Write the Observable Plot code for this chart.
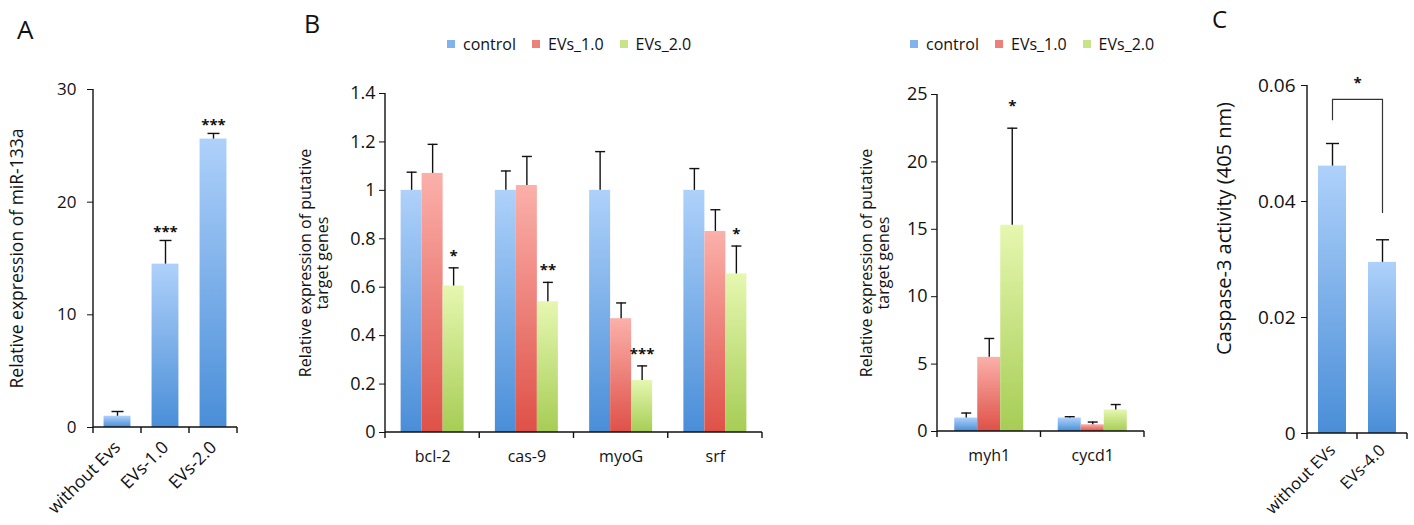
<!DOCTYPE html>
<html><head><meta charset="utf-8">
<script src="https://cdn.jsdelivr.net/npm/d3@7"></script>
<script src="https://cdn.jsdelivr.net/npm/@observablehq/plot@0.6"></script>
<style>
body{margin:0;background:#fff;font-family:"Open Sans",sans-serif;color:#111;}
#root{position:relative;width:1414px;height:525px;overflow:hidden;background:#fff;}
.panel{position:absolute;top:0;}
.tag{position:absolute;line-height:1;color:#111;}
.leg{position:absolute;}
</style></head><body><div id="root"></div>
<script>
// ---------- Panel A ----------
const aCategories = ["without Evs", "EVs-1.0", "EVs-2.0"];
const aValues = [1.0, 14.5, 25.6];
const aErrTop = [1.42, 16.6, 26.1];
const aStars = ["", "***", "***"];
const aTicks = [0, 10, 20, 30];
const aYLabel = "Relative expression of miR-133a";

// ---------- Panel B ----------
const bSeries = ["control", "EVs_1.0", "EVs_2.0"];
const bGenesLeft = ["bcl-2", "cas-9", "myoG", "srf"];
const bControlLeft = [1.0, 1.0, 1.0, 1.0];
const bControlLeftErr = [1.075, 1.08, 1.16, 1.09];
const bEv1Left = [1.07, 1.02, 0.47, 0.83];
const bEv1LeftErr = [1.19, 1.14, 0.535, 0.92];
const bEv2Left = [0.605, 0.54, 0.215, 0.655];
const bEv2LeftErr = [0.68, 0.62, 0.275, 0.77];
const bStarsLeft = ["*", "**", "***", "*"];
const bTicksLeft = [0, 0.2, 0.4, 0.6, 0.8, 1.0, 1.2, 1.4];

const bGenesRight = ["myh1", "cycd1"];
const bControlRight = [1.0, 1.0];
const bControlRightErr = [1.37, 1.1];
const bEv1Right = [5.5, 0.5];
const bEv1RightErr = [6.9, 0.7];
const bEv2Right = [15.3, 1.6];
const bEv2RightErr = [22.5, 2.0];
const bStarsRight = ["*", ""];
const bTicksRight = [0, 5, 10, 15, 20, 25];
const bYLabel = "Relative expression of putative\ntarget genes";

// ---------- Panel C ----------
const cCategories = ["without EVs", "EVs-4.0"];
const cValues = [0.0461, 0.0295];
const cErrTop = [0.0500, 0.0334];
const cBracketX = ["without EVs", "without EVs", "EVs-4.0", "EVs-4.0"];
const cBracketY = [0.0541, 0.0576, 0.0576, 0.0381];
const cStar = "*";
const cTicks = [0, 0.02, 0.04, 0.06];
const cYLabel = "Caspase-3 activity (405 nm)";

// ---------- styles ----------
const INK = "#111";
const BLUE = ["#aed1fa", "#4a8ed8"];
const RED = ["#fbb0aa", "#de5148"];
const GREEN = ["#e6f7b0", "#a6cd55"];
const LEGEND_COLORS = ["#80b3ee", "#ef8078", "#c8e487"];
const FONT = "Open Sans";
const baseStyle = {background: "none", overflow: "visible", fontFamily: FONT, fontSize: "17px", color: INK};

const cap = {draw(ctx, size) { const h = Math.sqrt(size / Math.PI); ctx.moveTo(-h, 0); ctx.lineTo(h, 0); }};

function gradDefs(prefix, pairs) {
  return () => {
    const defs = d3.create("svg:defs");
    pairs.forEach(([top, bottom], k) => {
      const lg = defs.append("linearGradient").attr("id", prefix + k)
        .attr("x1", 0).attr("y1", 0).attr("x2", 0).attr("y2", 1);
      lg.append("stop").attr("offset", "0%").attr("stop-color", top);
      lg.append("stop").attr("offset", "100%").attr("stop-color", bottom);
    });
    return defs.node();
  };
}

// axis lines + category boundary ticks drawn from the plot's own scales
function axisFrame() {
  return (index, scales, values, dims) => {
    const x = scales.x, y = scales.y;
    const [lo, hi] = y.domain();
    const g = d3.create("svg:g").attr("stroke", INK).attr("stroke-width", 1.4).attr("fill", "none");
    const left = dims.marginLeft, right = dims.width - dims.marginRight;
    g.append("line").attr("x1", left).attr("x2", left).attr("y1", y(hi)).attr("y2", y(lo));
    g.append("line").attr("x1", left).attr("x2", right).attr("y1", y(lo)).attr("y2", y(lo));
    const dom = x.domain(), half = x.step() / 2, bw = x.bandwidth() / 2;
    const bounds = dom.map(d => x(d) + bw - half);
    bounds.push(x(dom[dom.length - 1]) + bw + half);
    for (const b of bounds) g.append("line").attr("x1", b).attr("x2", b).attr("y1", y(lo)).attr("y2", y(lo) + 6);
    return g.node();
  };
}

function place(node, left, width) {
  const div = document.createElement("div");
  div.className = "panel";
  div.style.left = left + "px";
  div.style.width = width + "px";
  div.appendChild(node);
  document.getElementById("root").appendChild(div);
}
function tag(text, left, top, size) {
  const d = document.createElement("div");
  d.className = "tag"; d.textContent = text;
  d.style.left = left + "px"; d.style.top = top + "px"; d.style.fontSize = size + "px";
  document.getElementById("root").appendChild(d);
}
function legend(left, top) {
  const l = Plot.legend({
    color: {type: "categorical", domain: bSeries, range: LEGEND_COLORS},
    legend: "swatches", swatchSize: 8,
    style: {fontFamily: FONT, fontSize: "16px", color: INK, background: "none"}
  });
  const d = document.createElement("div");
  d.className = "leg"; d.style.left = left + "px"; d.style.top = top + "px";
  d.appendChild(l);
  document.getElementById("root").appendChild(d);
}

// ---------- Panel A ----------
const rowsA = aCategories.map((c, i) => ({cat: c, value: aValues[i], err: aErrTop[i], star: aStars[i]}));
place(Plot.plot({
  width: 250, height: 525, marginLeft: 93, marginRight: 13, marginTop: 89, marginBottom: 98,
  style: baseStyle,
  x: {type: "band", domain: aCategories, paddingInner: 0.44, paddingOuter: 0.22, round: false},
  y: {domain: [0, 30]},
  marks: [
    gradDefs("gA", [BLUE]),
    Plot.barY(rowsA, {x: "cat", y: "value", fill: "url(#gA0)"}),
    Plot.ruleX(rowsA, {x: "cat", y1: "value", y2: "err", stroke: INK, strokeWidth: 1.4}),
    Plot.dot(rowsA, {x: "cat", y: "err", symbol: cap, r: 6, stroke: INK, fill: "none", strokeWidth: 1.4}),
    Plot.text(rowsA.filter(d => d.star), {x: "cat", y: "err", text: "star", dy: -8, fontSize: 15, fontWeight: "bold"}),
    axisFrame(),
    Plot.axisY(aTicks, {tickSize: 6, tickPadding: 11, label: null, fontSize: 17}),
    Plot.axisX({tickSize: 0, tickRotate: -45, tickPadding: 17, label: null, fontSize: 17.5}),
    Plot.text([aYLabel], {frameAnchor: "left", textAnchor: "middle", rotate: -90, dx: -76, fontSize: 17.5})
  ]
}), 0, 250);

// ---------- Panel B (bars layer below, axes/labels layer above) ----------
function panelB({genes, ctrl, ctrlErr, ev1, ev1Err, ev2, ev2Err, stars, starDy, ticks, yMax, fmt, left, width, ml, mr, mt, mb, padOuter, labelDx, prefix}) {
  const rows = [];
  genes.forEach((g, i) => {
    rows.push({gene: g, series: bSeries[0], value: ctrl[i], err: ctrlErr[i], star: ""});
    rows.push({gene: g, series: bSeries[1], value: ev1[i], err: ev1Err[i], star: ""});
    rows.push({gene: g, series: bSeries[2], value: ev2[i], err: ev2Err[i], star: stars[i]});
  });
  const common = {width, height: 525, marginLeft: ml, marginRight: mr, marginTop: mt, marginBottom: mb, style: baseStyle};
  place(Plot.plot({
    ...common,
    fx: {domain: genes, padding: 0, round: false, axis: null},
    x: {type: "band", domain: bSeries, paddingInner: 0, paddingOuter: padOuter, round: false, axis: null},
    y: {domain: [0, yMax], axis: null},
    marks: [
      gradDefs(prefix, [BLUE, RED, GREEN]),
      ...bSeries.map((s, k) => Plot.barY(rows.filter(r => r.series === s), {fx: "gene", x: "series", y: "value", fill: `url(#${prefix}${k})`})),
      Plot.ruleX(rows, {fx: "gene", x: "series", y1: "value", y2: "err", stroke: INK, strokeWidth: 1.4}),
      Plot.dot(rows, {fx: "gene", x: "series", y: "err", symbol: cap, r: 5, stroke: INK, fill: "none", strokeWidth: 1.4}),
      Plot.text(rows.filter(r => r.star), {fx: "gene", x: "series", y: "err", text: "star", dy: starDy, fontSize: 15, fontWeight: "bold"})
    ]
  }), left, width);
  place(Plot.plot({
    ...common,
    x: {type: "band", domain: genes, padding: 0, round: false},
    y: {domain: [0, yMax]},
    marks: [
      axisFrame(),
      Plot.axisY(ticks, {tickSize: 6, tickPadding: 4, tickFormat: fmt, label: null, fontSize: 18}),
      Plot.axisX({tickSize: 0, tickPadding: 18, label: null, fontSize: 16}),
      Plot.text([bYLabel], {frameAnchor: "left", textAnchor: "middle", rotate: -90, dx: labelDx, fontSize: 16, lineHeight: 1.05})
    ]
  }), left, width);
}

panelB({genes: bGenesLeft, ctrl: bControlLeft, ctrlErr: bControlLeftErr, ev1: bEv1Left, ev1Err: bEv1LeftErr,
  ev2: bEv2Left, ev2Err: bEv2LeftErr, stars: bStarsLeft, starDy: -12, ticks: bTicksLeft, yMax: 1.4,
  fmt: d => String(+d.toFixed(1)), left: 290, width: 490, ml: 95, mr: 18, mt: 93, mb: 93,
  padOuter: 0.744, labelDx: -71, prefix: "gBL"});
panelB({genes: bGenesRight, ctrl: bControlRight, ctrlErr: bControlRightErr, ev1: bEv1Right, ev1Err: bEv1RightErr,
  ev2: bEv2Right, ev2Err: bEv2RightErr, stars: bStarsRight, starDy: -22, ticks: bTicksRight, yMax: 25,
  fmt: d => String(d), left: 840, width: 330, ml: 97, mr: 26, mt: 94, mb: 94,
  padOuter: 0.75, labelDx: -62, prefix: "gBR"});

// ---------- Panel C ----------
const rowsC = cCategories.map((c, i) => ({cat: c, value: cValues[i], err: cErrTop[i]}));
const bracket = cBracketX.map((x, i) => ({x, y: cBracketY[i]}));
place(Plot.plot({
  width: 244, height: 525, marginLeft: 137, marginRight: 7, marginTop: 85, marginBottom: 92,
  style: {...baseStyle, fontSize: "19px"},
  x: {type: "band", domain: cCategories, paddingInner: 0.44, paddingOuter: 0.22, round: false},
  y: {domain: [0, 0.06]},
  marks: [
    gradDefs("gC", [BLUE]),
    Plot.barY(rowsC, {x: "cat", y: "value", fill: "url(#gC0)"}),
    Plot.ruleX(rowsC, {x: "cat", y1: "value", y2: "err", stroke: INK, strokeWidth: 1.4}),
    Plot.dot(rowsC, {x: "cat", y: "err", symbol: cap, r: 6.5, stroke: INK, fill: "none", strokeWidth: 1.4}),
    Plot.line(bracket, {x: "x", y: "y", stroke: "#333", strokeWidth: 1.2}),
    Plot.text([{s: cStar, y: cBracketY[1]}], {y: "y", text: "s", dy: -16, fontSize: 15, fontWeight: "bold"}),
    axisFrame(),
    Plot.axisY(cTicks, {tickSize: 6, tickPadding: 6, tickFormat: d => d === 0 ? "0" : d.toFixed(2), label: null, fontSize: 19}),
    Plot.axisX({tickSize: 0, tickRotate: -45, tickPadding: 14, label: null, fontSize: 16.5}),
    Plot.text([cYLabel], {frameAnchor: "left", textAnchor: "middle", rotate: -90, dx: -83, dy: -31, fontSize: 20})
  ]
}), 1170, 244);

legend(447, 27);
legend(910, 27);
tag("A", 17, 16, 26);
tag("B", 304, 11, 25);
tag("C", 1212, 7, 24);
</script></body></html>
